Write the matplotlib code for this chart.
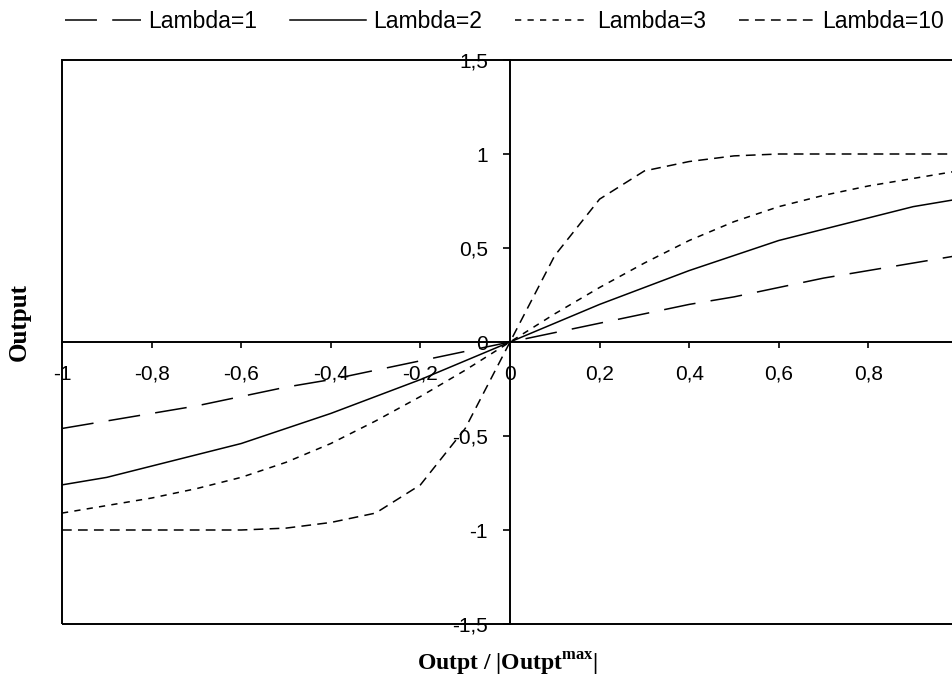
import matplotlib
matplotlib.use('Agg')
import matplotlib.pyplot as plt
from matplotlib.ticker import FuncFormatter

plt.rcParams['font.family'] = ['Liberation Sans', 'DejaVu Sans']
plt.rcParams['lines.scale_dashes'] = False
plt.rcParams['mathtext.fontset'] = 'custom'
plt.rcParams['mathtext.rm'] = 'Liberation Serif:bold'

x = [-1.0, -0.9, -0.8, -0.7, -0.6, -0.5, -0.4, -0.3, -0.2, -0.1, 0.0,
     0.1, 0.2, 0.3, 0.4, 0.5, 0.6, 0.7, 0.8, 0.9, 1.0]
lambda_1 = [-0.46, -0.42, -0.38, -0.34, -0.29, -0.24, -0.20, -0.15, -0.10, -0.05, 0.0,
            0.05, 0.10, 0.15, 0.20, 0.24, 0.29, 0.34, 0.38, 0.42, 0.46]
lambda_2 = [-0.76, -0.72, -0.66, -0.60, -0.54, -0.46, -0.38, -0.29, -0.20, -0.10, 0.0,
            0.10, 0.20, 0.29, 0.38, 0.46, 0.54, 0.60, 0.66, 0.72, 0.76]
lambda_3 = [-0.91, -0.87, -0.83, -0.78, -0.72, -0.64, -0.54, -0.42, -0.29, -0.15, 0.0,
            0.15, 0.29, 0.42, 0.54, 0.64, 0.72, 0.78, 0.83, 0.87, 0.91]
lambda_10 = [-1.0, -1.0, -1.0, -1.0, -1.0, -0.99, -0.96, -0.91, -0.76, -0.46, 0.0,
             0.46, 0.76, 0.91, 0.96, 0.99, 1.0, 1.0, 1.0, 1.0, 1.0]
labels = ['Lambda=1', 'Lambda=2', 'Lambda=3', 'Lambda=10']

fig = plt.figure(figsize=(9.52, 6.78), dpi=100)
ax = fig.add_axes([62/952, 54/678, 896/952, 564/678])
ax.set_xlim(-1, 1)
ax.set_ylim(-1.5, 1.5)

lw = 1.1
ax.plot(x, lambda_1, color='black', lw=lw, dashes=(23, 11), label=labels[0])
ax.plot(x, lambda_2, color='black', lw=lw, label=labels[1])
ax.plot(x, lambda_3, color='black', lw=lw, dashes=(4.5, 4.5), label=labels[2])
ax.plot(x, lambda_10, color='black', lw=lw, dashes=(7, 4.5), label=labels[3])

# centred axes, outer frame kept as box
for side in ['top', 'right']:
    ax.spines[side].set_visible(False)
ax.spines['left'].set_position(('data', 0))
ax.spines['bottom'].set_position(('data', 0))
ax.spines['left'].set_linewidth(1.4)
ax.spines['bottom'].set_linewidth(1.4)
box = plt.Rectangle((0, 0), 1, 1, transform=ax.transAxes, fill=False,
                    edgecolor='black', lw=1.4, clip_on=False)
ax.add_patch(box)

ax.set_xticks([-1, -0.8, -0.6, -0.4, -0.2, 0, 0.2, 0.4, 0.6, 0.8, 1])
ax.set_yticks([-1.5, -1, -0.5, 0, 0.5, 1, 1.5])
comma = FuncFormatter(lambda v, p: ('%g' % round(v, 2)).replace('.', ','))
ax.xaxis.set_major_formatter(comma)
ax.yaxis.set_major_formatter(comma)
ax.tick_params(axis='x', direction='out', length=4.5, width=1.2, pad=12, labelsize=15)
ax.tick_params(axis='y', direction='out', length=5, width=1.2, pad=11, labelsize=15)

fig.text(19/952, 1 - 322/678, 'Output', rotation=90, ha='center', va='center',
         family='Liberation Serif', fontweight='bold', fontsize=18)
fig.text(507/952, 1 - 664/678, 'Outpt / |Outpt$^{\\mathrm{max}}$|', ha='center', va='center',
         family='Liberation Serif', fontweight='bold', fontsize=17)

fig.legend(loc='center', bbox_to_anchor=(0.530, 1 - 22/678), ncol=4, frameon=False,
           fontsize=16.5, handlelength=3.3, handletextpad=0.3, columnspacing=1.45,
           borderaxespad=0)

fig.savefig('out.png', dpi=100, facecolor='white')
